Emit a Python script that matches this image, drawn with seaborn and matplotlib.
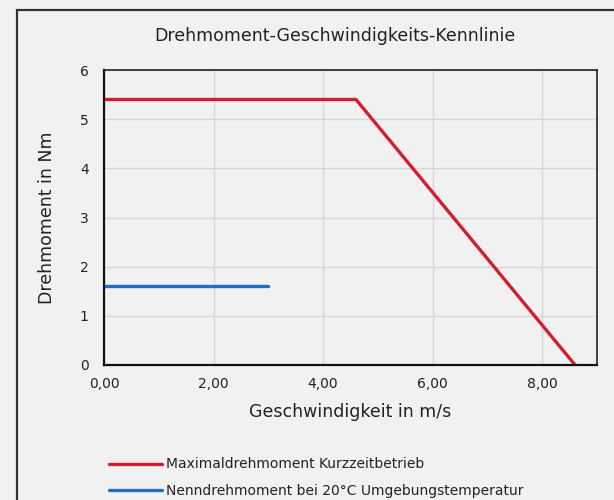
import matplotlib
matplotlib.use("Agg")
import matplotlib.pyplot as plt
import seaborn as sns
import pandas as pd
from matplotlib.patches import Rectangle
from matplotlib.ticker import FuncFormatter

sns.set_theme(style="white")
plt.rcParams['font.family'] = ['DejaVu Sans']

# Data
max_speed = [0.0, 4.6, 8.6]
max_torque = [5.4, 5.4, 0.0]
rated_speed = [0.0, 3.0]
rated_torque = [1.6, 1.6]
series_names = ["Maximaldrehmoment Kurzzeitbetrieb",
                "Nenndrehmoment bei 20°C Umgebungstemperatur"]
series_colors = ["#d0202e", "#1f6fbf"]
x_ticks = [0, 2, 4, 6, 8]
y_ticks = [0, 1, 2, 3, 4, 5, 6]

df = pd.DataFrame({
    "speed": max_speed + rated_speed,
    "torque": max_torque + rated_torque,
    "series": [series_names[0]] * len(max_speed) + [series_names[1]] * len(rated_speed),
})

bg = "#f0f1f0"
fig = plt.figure(figsize=(6.14, 5.0), dpi=100, facecolor=bg)
# outer frame (left & top visible, the rest cropped)
fig.patches.append(Rectangle((17 / 614, -0.1), 1.2, 0.1 + (500 - 10) / 500,
                             transform=fig.transFigure, fill=False,
                             edgecolor="#333333", linewidth=1.6, zorder=0))

ax = fig.add_axes([104 / 614, 1 - 365 / 500, (597 - 104) / 614, (365 - 70) / 500])
ax.set_facecolor(bg)

sns.lineplot(data=df, x="speed", y="torque", hue="series", palette=series_colors,
             linewidth=2.4, ax=ax, legend=True, sort=False, estimator=None)

ax.set_xlim(0, 9)
ax.set_ylim(0, 6)
ax.set_xticks(x_ticks)
ax.set_yticks(y_ticks)
ax.xaxis.set_major_formatter(FuncFormatter(lambda v, p: f"{v:.2f}".replace(".", ",")))
ax.grid(True, color="#d6d6d6", linewidth=1.0)
ax.set_axisbelow(True)

for side in ["left", "bottom"]:
    ax.spines[side].set_color("#111111")
    ax.spines[side].set_linewidth(1.6)
for side in ["top", "right"]:
    ax.spines[side].set_color("#222222")
    ax.spines[side].set_linewidth(1.2)

ax.tick_params(axis="both", direction="in", length=4, width=1.2, color="#111111",
               labelsize=10, labelcolor="#222222")
ax.tick_params(axis="x", pad=9)
ax.tick_params(axis="y", pad=11)

ax.set_xlabel("Geschwindigkeit in m/s", fontsize=12.5, color="#222222", labelpad=8)
ax.set_ylabel("Drehmoment in Nm", fontsize=12.5, color="#222222", labelpad=17)
fig.text(335 / 614, 1 - 36 / 500, "Drehmoment-Geschwindigkeits-Kennlinie",
         ha="center", va="center", fontsize=12.5, color="#222222")

handles, labels = ax.get_legend_handles_labels()
ax.get_legend().remove()
fig.legend(handles, labels, loc="upper left", bbox_to_anchor=(97 / 614, 1 - 445 / 500),
           frameon=False, fontsize=10, handlelength=3.8, handletextpad=0.3,
           labelspacing=0.9, labelcolor="#222222")

fig.savefig("out.png", dpi=100, facecolor=bg)
